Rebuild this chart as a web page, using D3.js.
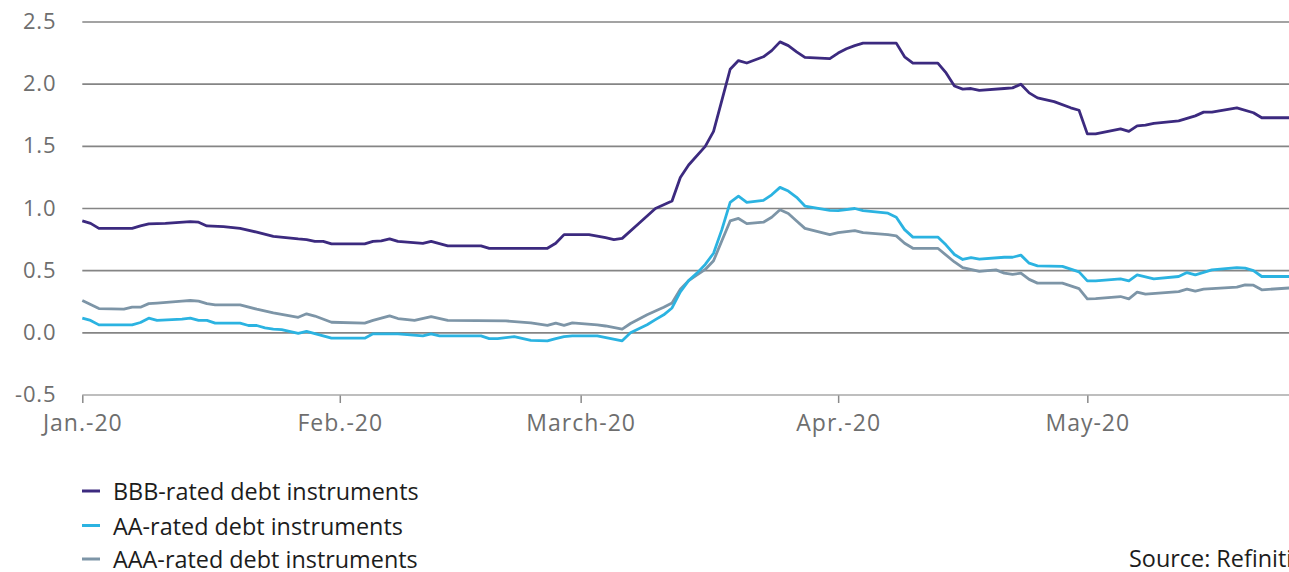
<!DOCTYPE html>
<html><head><meta charset="utf-8">
<script src="https://cdn.jsdelivr.net/npm/d3@7"></script>
<style>
html,body{margin:0;padding:0;background:#fff;overflow:hidden;}
svg{display:block;font-family:"Open Sans",sans-serif;}
</style></head>
<body>
<svg id="chart" width="1289" height="572"></svg>
<script>
// ---- data ----
const seriesNames = ["BBB-rated debt instruments","AA-rated debt instruments","AAA-rated debt instruments"];
const seriesColors = ["#3c2a7f","#2bb3e1","#7d95a7"];
const yTicks = [-0.5,0,0.5,1.0,1.5,2.0,2.5];
const xTickDates = ["2020-01-01","2020-02-01","2020-03-01","2020-04-01","2020-05-01"];
const xTickLabels = ["Jan.-20","Feb.-20","March-20","Apr.-20","May-20"];
const sourceText = "Source: Refinitiv";

const bbb = [
["2020-01-01",0.90],["2020-01-02",0.88],["2020-01-03",0.84],["2020-01-07",0.84],["2020-01-08",0.86],
["2020-01-09",0.876],["2020-01-11",0.88],["2020-01-14",0.895],["2020-01-15",0.89],["2020-01-16",0.86],
["2020-01-18",0.855],["2020-01-20",0.84],["2020-01-22",0.81],["2020-01-24",0.775],["2020-01-27",0.755],
["2020-01-28",0.75],["2020-01-29",0.735],["2020-01-30",0.735],["2020-01-31",0.715],["2020-02-04",0.715],
["2020-02-05",0.735],["2020-02-06",0.74],["2020-02-07",0.755],["2020-02-08",0.735],["2020-02-11",0.72],
["2020-02-12",0.735],["2020-02-14",0.70],["2020-02-18",0.70],["2020-02-19",0.68],["2020-02-26",0.68],
["2020-02-27",0.72],["2020-02-28",0.79],["2020-03-02",0.79],["2020-03-04",0.765],["2020-03-05",0.75],
["2020-03-06",0.76],["2020-03-08",0.88],["2020-03-10",1.00],["2020-03-12",1.06],["2020-03-13",1.25],
["2020-03-14",1.35],["2020-03-16",1.50],["2020-03-17",1.62],["2020-03-18",1.87],["2020-03-19",2.12],
["2020-03-20",2.19],["2020-03-21",2.17],["2020-03-23",2.22],["2020-03-24",2.27],["2020-03-25",2.34],
["2020-03-26",2.31],["2020-03-27",2.26],["2020-03-28",2.215],["2020-03-31",2.205],["2020-04-01",2.25],
["2020-04-02",2.285],["2020-04-03",2.31],["2020-04-04",2.33],["2020-04-08",2.33],["2020-04-09",2.22],
["2020-04-10",2.17],["2020-04-13",2.17],["2020-04-14",2.09],["2020-04-15",1.985],["2020-04-16",1.96],
["2020-04-17",1.965],["2020-04-18",1.95],["2020-04-21",1.965],["2020-04-22",1.97],["2020-04-23",2.0],
["2020-04-24",1.93],["2020-04-25",1.89],["2020-04-27",1.86],["2020-04-29",1.81],["2020-04-30",1.79],
["2020-05-01",1.60],["2020-05-02",1.60],["2020-05-05",1.64],["2020-05-06",1.62],["2020-05-07",1.665],
["2020-05-08",1.67],["2020-05-09",1.685],["2020-05-12",1.705],["2020-05-14",1.745],["2020-05-15",1.775],
["2020-05-16",1.775],["2020-05-19",1.81],["2020-05-21",1.77],["2020-05-22",1.73],["2020-05-26",1.73]
];

const aa = [
["2020-01-01",0.118],["2020-01-02",0.10],["2020-01-03",0.064],["2020-01-07",0.064],["2020-01-08",0.083],
["2020-01-09",0.118],["2020-01-10",0.10],["2020-01-13",0.11],["2020-01-14",0.118],["2020-01-15",0.10],
["2020-01-16",0.10],["2020-01-17",0.078],["2020-01-20",0.078],["2020-01-21",0.059],["2020-01-22",0.059],
["2020-01-23",0.04],["2020-01-24",0.03],["2020-01-25",0.025],["2020-01-27",-0.005],["2020-01-28",0.012],
["2020-01-31",-0.043],["2020-02-04",-0.043],["2020-02-05",-0.008],["2020-02-08",-0.008],["2020-02-11",-0.025],
["2020-02-12",-0.008],["2020-02-13",-0.024],["2020-02-18",-0.024],["2020-02-19",-0.046],["2020-02-20",-0.046],
["2020-02-22",-0.03],["2020-02-24",-0.06],["2020-02-26",-0.064],["2020-02-27",-0.046],["2020-02-28",-0.03],
["2020-02-29",-0.024],["2020-03-03",-0.024],["2020-03-06",-0.064],["2020-03-07",0.0],["2020-03-09",0.065],
["2020-03-10",0.106],["2020-03-11",0.145],["2020-03-12",0.20],["2020-03-13",0.33],["2020-03-14",0.42],
["2020-03-15",0.48],["2020-03-16",0.55],["2020-03-17",0.64],["2020-03-18",0.83],["2020-03-19",1.05],
["2020-03-20",1.10],["2020-03-21",1.05],["2020-03-23",1.065],["2020-03-24",1.11],["2020-03-25",1.17],
["2020-03-26",1.14],["2020-03-27",1.09],["2020-03-28",1.02],["2020-03-31",0.985],["2020-04-01",0.983],
["2020-04-03",1.0],["2020-04-04",0.983],["2020-04-07",0.962],["2020-04-08",0.93],["2020-04-09",0.83],
["2020-04-10",0.77],["2020-04-13",0.77],["2020-04-14",0.706],["2020-04-15",0.63],["2020-04-16",0.59],
["2020-04-17",0.605],["2020-04-18",0.592],["2020-04-21",0.608],["2020-04-22",0.608],["2020-04-23",0.625],
["2020-04-24",0.56],["2020-04-25",0.539],["2020-04-28",0.535],["2020-04-30",0.49],["2020-05-01",0.418],
["2020-05-02",0.418],["2020-05-05",0.434],["2020-05-06",0.418],["2020-05-07",0.466],["2020-05-09",0.434],
["2020-05-12",0.453],["2020-05-13",0.485],["2020-05-14",0.466],["2020-05-16",0.506],["2020-05-19",0.525],
["2020-05-20",0.52],["2020-05-21",0.50],["2020-05-22",0.453],["2020-05-26",0.453]
];

const aaa = [
["2020-01-01",0.26],["2020-01-03",0.195],["2020-01-06",0.19],["2020-01-07",0.206],["2020-01-08",0.206],
["2020-01-09",0.235],["2020-01-10",0.239],["2020-01-13",0.255],["2020-01-14",0.26],["2020-01-15",0.255],
["2020-01-16",0.235],["2020-01-17",0.225],["2020-01-20",0.225],["2020-01-22",0.19],["2020-01-24",0.16],
["2020-01-27",0.125],["2020-01-28",0.153],["2020-01-29",0.135],["2020-01-31",0.085],["2020-02-04",0.078],
["2020-02-05",0.10],["2020-02-07",0.137],["2020-02-08",0.115],["2020-02-10",0.10],["2020-02-12",0.131],
["2020-02-14",0.10],["2020-02-21",0.096],["2020-02-24",0.08],["2020-02-26",0.06],["2020-02-27",0.078],
["2020-02-28",0.06],["2020-02-29",0.08],["2020-03-03",0.064],["2020-03-04",0.055],["2020-03-06",0.03],
["2020-03-07",0.075],["2020-03-09",0.145],["2020-03-10",0.175],["2020-03-11",0.205],["2020-03-12",0.24],
["2020-03-13",0.35],["2020-03-14",0.42],["2020-03-16",0.51],["2020-03-17",0.58],["2020-03-18",0.74],
["2020-03-19",0.90],["2020-03-20",0.92],["2020-03-21",0.878],["2020-03-23",0.89],["2020-03-24",0.93],
["2020-03-25",0.99],["2020-03-26",0.96],["2020-03-27",0.90],["2020-03-28",0.84],["2020-03-31",0.79],
["2020-04-01",0.806],["2020-04-03",0.822],["2020-04-04",0.806],["2020-04-07",0.79],["2020-04-08",0.78],
["2020-04-09",0.72],["2020-04-10",0.68],["2020-04-13",0.68],["2020-04-15",0.57],["2020-04-16",0.525],
["2020-04-18",0.495],["2020-04-20",0.506],["2020-04-21",0.48],["2020-04-22",0.47],["2020-04-23",0.48],
["2020-04-24",0.43],["2020-04-25",0.40],["2020-04-28",0.40],["2020-04-30",0.355],["2020-05-01",0.273],
["2020-05-02",0.275],["2020-05-05",0.292],["2020-05-06",0.273],["2020-05-07",0.327],["2020-05-08",0.311],
["2020-05-12",0.332],["2020-05-13",0.351],["2020-05-14",0.335],["2020-05-15",0.351],["2020-05-19",0.367],
["2020-05-20",0.386],["2020-05-21",0.383],["2020-05-22",0.346],["2020-05-26",0.364]
];

// ---- chart ----
const parse = d3.utcParse("%Y-%m-%d");
const svg = d3.select("#chart");
const W = 1289;
const x0 = 82.3, pxPerDay = 8.306;
const xStart = parse("2020-01-01"), xEnd = parse("2020-06-01");
const days = (xEnd - xStart) / 864e5;
const x = d3.scaleUtc().domain([xStart, xEnd]).range([x0, x0 + days * pxPerDay]);
const y = d3.scaleLinear().domain([-0.5, 2.5]).range([395, 22]);

// gridlines
svg.append("g").selectAll("line").data(yTicks.filter(v => v > -0.5)).join("line")
  .attr("x1", x0).attr("x2", W).attr("y1", d => y(d)).attr("y2", d => y(d))
  .attr("stroke", "#858585").attr("stroke-width", 1.6);

// y axis labels
const yAxis = d3.axisLeft(y).tickValues(yTicks).tickSize(0).tickPadding(26)
  .tickFormat(d => d.toFixed(1));
const gy = svg.append("g").attr("transform", `translate(${x0},0)`).call(yAxis);
gy.select(".domain").remove();
gy.selectAll("text").attr("fill", "#6e6e6e").style("font-size", "22px")
  .style("letter-spacing", "0.8px")
  .style("font-family", "'Open Sans',sans-serif").attr("dy", "0.3em");

// x axis
const xAxis = d3.axisBottom(x).tickValues(xTickDates.map(parse)).tickSize(8).tickPadding(12)
  .tickFormat((d, i) => xTickLabels[i]);
const gx = svg.append("g").attr("transform", `translate(0,${y(-0.5)})`).call(xAxis);
gx.select(".domain").remove();
gx.append("line").attr("x1", x0).attr("x2", W).attr("stroke", "#a8a8a8").attr("stroke-width", 1.5);
gx.selectAll(".tick line").attr("stroke", "#8a8a8a").attr("stroke-width", 1.5);
gx.selectAll("text").attr("fill", "#6e6e6e").style("font-size", "23px")
  .style("letter-spacing", "1px")
  .style("font-family", "'Open Sans',sans-serif");

// lines
const line = d3.line().x(d => x(parse(d[0]))).y(d => y(d[1]));
const allSeries = [bbb, aa, aaa];
const order = [2, 1, 0];
svg.append("g").selectAll("path").data(order).join("path")
  .attr("d", i => line(allSeries[i]))
  .attr("fill", "none").attr("stroke", i => seriesColors[i])
  .attr("stroke-width", 2.8).attr("stroke-linejoin", "round");

// legend
const lg = svg.append("g");
const legY = [491, 525.5, 559];
seriesNames.forEach((n, i) => {
  lg.append("line").attr("x1", 82).attr("x2", 100).attr("y1", legY[i]).attr("y2", legY[i])
    .attr("stroke", seriesColors[i]).attr("stroke-width", 3);
  lg.append("text").attr("x", 113).attr("y", legY[i] + 9)
    .attr("fill", "#1c1c1c").style("font-size", "23.4px").text(n);
});

// source
svg.append("text").attr("x", 1129).attr("y", 567)
  .attr("fill", "#1c1c1c").style("font-size", "23.4px").text(sourceText);
</script>
</body></html>
